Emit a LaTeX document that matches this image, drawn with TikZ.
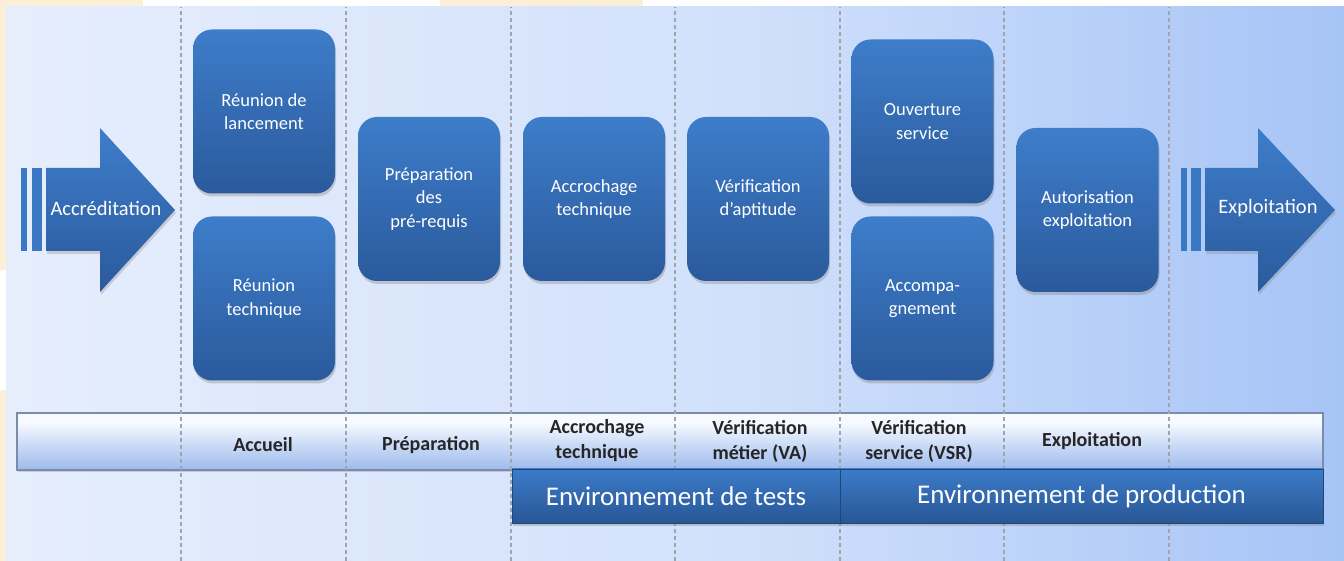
\documentclass[tikz,border=0pt]{standalone}
\usepackage{fontspec}
\setmainfont{Carlito}
\usetikzlibrary{shadows}
\definecolor{panL}{HTML}{E6EEFC}
\definecolor{panM}{HTML}{D2E1FB}
\definecolor{panR}{HTML}{A6C4F6}
\definecolor{cream}{HTML}{FCEFD8}
\definecolor{boxT}{HTML}{3E7DCA}
\definecolor{boxB}{HTML}{2A5A9C}
\definecolor{bandT}{HTML}{3C7BC9}
\definecolor{bandB}{HTML}{285795}
\definecolor{barT}{HTML}{F6F9FE}
\definecolor{barM}{HTML}{CCDCF7}
\definecolor{barB}{HTML}{9EBAEC}
\definecolor{barEdge}{HTML}{7A8CAA}
\definecolor{dashc}{HTML}{A0A4AC}
\definecolor{labc}{HTML}{262626}
\pgfdeclarehorizontalshading{panelshade}{100bp}{color(0bp)=(panL); color(25bp)=(panL); color(52bp)=(panM); color(75bp)=(panR); color(100bp)=(panR)}
\pgfdeclareverticalshading{barshade}{100bp}{color(0bp)=(barB); color(25bp)=(barB); color(48bp)=(barM); color(66bp)=(barT); color(75bp)=(barT); color(100bp)=(barT)}
\tikzset{
  box/.style={rounded corners=19pt, top color=boxT, bottom color=boxB,
    minimum width=142pt, minimum height=164pt, inner sep=0pt, text=white,
    align=center, font=\fontsize{18.5}{23.5}\selectfont,
    drop shadow={opacity=0.35, shadow xshift=1pt, shadow yshift=-3pt}},
  arrowbody/.style={top color=boxT, bottom color=boxB,
    drop shadow={opacity=0.3, shadow xshift=1pt, shadow yshift=-3pt}},
  arrowtext/.style={text=white, font=\fontsize{20.5}{24}\selectfont, inner sep=0pt},
  guide/.style={draw=dashc, line width=1.6pt, dash pattern=on 4pt off 3pt},
  bar/.style={shading=barshade, draw=barEdge, line width=1.2pt,
    minimum width=1306pt, minimum height=57pt, inner sep=0pt,
    drop shadow={opacity=0.3, shadow xshift=1pt, shadow yshift=-2pt}},
  lab/.style={text=labc, align=center, font=\bfseries\fontsize{20}{25}\selectfont, inner sep=0pt},
  band/.style={top color=bandT, bottom color=bandB, draw=bandB!80!black, line width=0.6pt,
    minimum height=54pt, inner sep=0pt, text=white,
    font=\fontsize{27}{32}\selectfont,
    drop shadow={opacity=0.35, shadow xshift=1pt, shadow yshift=-3pt}}
}
\begin{document}
\begin{tikzpicture}[x=1pt,y=1pt]
\useasboundingbox (0,0) rectangle (1344,561);
\fill[white] (0,0) rectangle (1344,561);
% watermark remnants
\fill[cream] (0,0) rectangle (6,171);
\fill[cream] (0,291) rectangle (6,561);
\fill[cream] (0,554) rectangle (143,561);
\fill[cream] (440,554) rectangle (643,561);
% panel
\shade[shading=panelshade] (6,0) rectangle (1344,554);
% bottom light bar
\node[bar] (bar) at (670,119.5) {};
% guides
\foreach \gx in {181,346,511,675,840,1004,1169}
  \draw[guide] (\gx,0) -- (\gx,554);
% bar labels
\node[lab] (lAcc) at (263,116) {Accueil};
\node[lab] (lPrep) at (431,116) {Préparation};
\node[lab] (lAccr) at (597,120) {Accrochage\\technique};
\node[lab] (lVa) at (760,120) {Vérification\\métier (VA)};
\node[lab] (lVsr) at (919,120) {Vérification\\service (VSR)};
\node[lab] (lExp) at (1092,120) {Exploitation};
% environment bands
\node[band, minimum width=328pt] (tests) at (676,65) {Environnement de tests};
\node[band, minimum width=483pt] (prod) at (1081.5,65) {Environnement de production};
% left arrow
\fill[boxT!85!boxB] (21,310) rectangle (27,393);
\fill[boxT!85!boxB] (32,310) rectangle (42,393);
\path[arrowbody] (46,310) -- (100,310) -- (100,269) -- (175,351) -- (100,433) -- (100,393) -- (46,393) -- cycle;
\node[arrowtext] (accr) at (106,353) {Accréditation};
% right arrow
\fill[boxT!85!boxB] (1181,310) rectangle (1187,393);
\fill[boxT!85!boxB] (1191,310) rectangle (1201,393);
\path[arrowbody] (1205,310) -- (1258,310) -- (1258,269) -- (1335,351) -- (1258,433) -- (1258,393) -- (1205,393) -- cycle;
\node[arrowtext] (expl) at (1268,353) {Exploitation};
% boxes
\node[box] (lanc) at (264,449.5) {Réunion de\\lancement};
\node[box] (rtech) at (264,262.5) {Réunion\\technique};
\node[box] (prep) at (429,362) {Préparation\\des\\pré-requis};
\node[box] (accroch) at (594,362) {Accrochage\\technique};
\node[box] (verif) at (758,362) {Vérification\\d’aptitude};
\node[box] (ouv) at (922.5,439.5) {Ouverture\\service};
\node[box] (accomp) at (922.5,262.5) {Accompa-\\gnement};
\node[box] (autor) at (1087.5,351) {Autorisation\\exploitation};
\end{tikzpicture}
\end{document}
